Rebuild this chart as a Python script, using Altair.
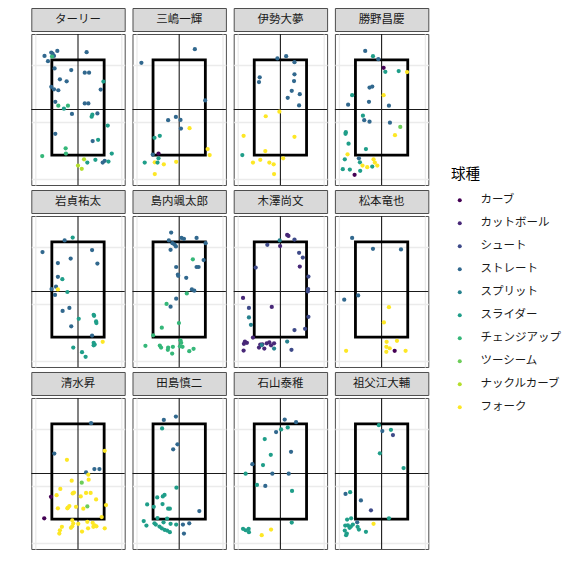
import altair as alt
import pandas as pd

players = ["ターリー", "三嶋一輝", "伊勢大夢", "勝野昌慶",
           "岩貞祐太", "島内颯太郎", "木澤尚文", "松本竜也",
           "清水昇", "田島慎二", "石山泰稚", "祖父江大輔"]

pitch_types = ["カーブ", "カットボール", "シュート", "ストレート", "スプリット",
               "スライダー", "チェンジアップ", "ツーシーム", "ナックルカーブ", "フォーク"]
pitch_colors = ["#440154", "#482878", "#3E4A89", "#31688E", "#26828E",
                "#1F9E89", "#35B779", "#6DCD59", "#B4DE2C", "#FDE725"]

CU, FC, SH, FF, SP, SL, CH, TS, KC, FO = pitch_types

# strike zone and cross lines (plot units)
zone_x = [-1.82, 1.82]
zone_y = [1.66, 8.37]
cross_x = 0.0
cross_y = 4.87

tarry = [
    (FF, -2.33, 8.65), (FF, -1.86, 8.88), (FF, -1.77, 8.81), (FF, -1.67, 8.65), (FF, -1.44, 9.0),
    (FF, -2.09, 8.28), (FF, 0.60, 8.91), (FF, -1.63, 7.77), (FF, -0.47, 7.65), (FF, 0.47, 7.47),
    (FF, 0.77, 7.47), (FF, -1.26, 7.0), (FF, -0.79, 6.86), (FF, -1.86, 6.47), (FF, -1.67, 6.30),
    (FF, -1.37, 6.23), (FF, 1.58, 6.28), (FF, -1.58, 5.42), (FF, 0.47, 5.30), (FF, 0.72, 5.30),
    (FF, 1.35, 4.60), (FF, -0.42, 4.56), (FF, -1.58, 3.16), (FF, 1.02, 2.65), (FF, 1.72, 1.14),
    (FF, 1.86, 1.26),
    (CH, -1.81, 8.60), (CH, -1.37, 5.14), (CH, -0.70, 5.14), (CH, -2.49, 1.60), (CH, -0.86, 2.14),
    (CH, -0.84, 1.77),
    (SL, -0.98, 4.93), (SL, 1.77, 6.84), (SL, 1.0, 4.51), (SL, 0.95, 4.37), (SL, 2.07, 3.74),
    (SL, 1.40, 2.74), (SL, 2.35, 1.77), (SL, 0.65, 1.14), (SL, 1.21, 1.33), (SL, 2.12, 1.21),
    (KC, 0.42, 1.37), (KC, 0.0, 0.93), (KC, 0.26, 0.70),
]
mishima = [
    (FF, -2.63, 8.16), (FF, 1.09, 9.12), (FF, 1.81, 5.51), (FF, -0.77, 4.12), (FF, -0.23, 4.35),
    (FF, 0.09, 4.14), (FF, 0.12, 3.53), (FF, -1.84, 1.70),
    (FO, 0.72, 3.56), (FO, -1.70, 1.16), (FO, -1.07, 1.02), (FO, -0.21, 1.19), (FO, 1.98, 2.09),
    (FO, 2.12, 1.67), (FO, -1.70, 0.33),
    (SL, -1.72, 2.88), (SL, -1.35, 3.02), (SL, -1.44, 1.44), (SL, -1.51, 1.14), (SL, -2.40, 1.14),
    (CU, -1.44, 1.77),
]
ise = [
    (FF, -0.21, 8.47), (FF, 0.40, 8.63), (FF, 0.98, 8.21), (FF, -1.44, 7.14), (FF, -1.49, 6.81),
    (FF, 0.98, 7.35), (FF, 0.95, 6.88), (FF, 0.79, 6.19), (FF, 1.35, 5.95), (FF, 0.51, 5.70),
    (FF, 1.30, 5.16),
    (FO, -0.07, 4.72), (FO, -1.02, 4.40), (FO, -2.56, 3.02), (FO, 0.98, 2.95), (FO, -1.05, 1.95),
    (FO, 0.19, 1.44), (FO, -1.91, 1.14), (FO, -1.40, 1.33), (FO, -0.77, 1.14), (FO, -0.47, 1.02),
    (FO, -0.44, 0.33),
    (SL, -2.65, 1.67),
]
katsuno = [
    (FF, -1.14, 9.0), (FF, -0.23, 8.42), (FF, -0.84, 6.42), (FF, -0.65, 6.49), (FF, -2.33, 5.21),
    (FF, -0.88, 5.42), (FF, 0.51, 5.14), (FF, -1.21, 4.12), (FF, -0.84, 4.02), (FF, 0.58, 3.95),
    (FF, -1.58, 1.44),
    (SL, -0.60, 8.63), (SL, 0.26, 7.53), (SL, 1.19, 7.58), (SL, -2.05, 5.88), (SL, -1.30, 4.44),
    (SL, -2.49, 3.28), (SL, -2.51, 3.16), (SL, -2.30, 2.47), (SL, -1.09, 2.09), (SL, -2.56, 1.37),
    (SL, -1.51, 1.16), (SL, -0.65, 0.86), (SL, -2.70, 0.67), (SL, -2.21, 0.65), (SL, -1.49, 0.56),
    (CU, 0.14, 7.81), (CU, -1.88, 0.28),
    (FO, 1.77, 7.51), (FO, 0.14, 5.88), (FO, 0.93, 3.07), (FO, -2.37, 1.72), (FO, -1.33, 0.93),
    (FO, -1.0, 0.81), (FO, -0.56, 1.37), (FO, -0.47, 1.14), (FO, -0.30, 0.93),
    (TS, 1.30, 3.65),
]
iwasada = [
    (FF, -0.93, 8.47), (FF, -2.47, 7.65), (FF, 0.98, 7.79), (FF, -0.51, 7.19), (FF, -1.40, 6.88),
    (FF, 1.35, 6.84), (FF, -1.40, 5.91), (FF, -1.53, 5.21), (FF, -1.84, 5.05), (FF, -1.60, 4.63),
    (FF, -1.07, 3.51), (FF, -0.60, 3.72), (FF, -0.47, 2.42), (FF, 0.98, 1.77),
    (SL, -0.37, 8.67), (SL, -1.09, 5.74), (SL, -0.74, 4.84), (SL, 0.05, 2.95), (SL, 1.09, 3.23),
    (SL, 1.12, 3.16), (SL, 1.26, 2.77), (SL, 1.28, 2.65), (SL, 1.09, 1.26), (SL, 1.16, 1.14),
    (SL, 1.09, 1.09), (SL, -0.33, 0.93), (SL, 0.28, 0.60), (SL, 0.53, 0.28),
    (FO, -1.40, 5.02), (FO, 1.72, 1.33),
]
shimauchi = [
    (FF, -0.56, 9.02), (FF, -0.72, 8.47), (FF, 0.16, 8.65), (FF, 0.33, 8.58), (FF, 1.21, 8.65),
    (FF, 1.84, 8.28), (FF, -0.47, 8.28), (FF, -0.33, 8.19), (FF, -0.60, 7.81), (FF, -0.23, 8.05),
    (FF, 1.70, 7.09), (FF, -0.21, 6.60), (FF, 1.21, 6.60), (FF, 1.35, 6.60), (FF, -0.09, 6.07),
    (FF, -0.07, 5.98), (FF, 0.49, 5.84), (FF, 0.88, 5.02), (FF, 1.05, 4.93), (FF, -0.21, 4.37),
    (FF, -0.60, 3.81),
    (CH, 0.95, 7.14), (CH, 0.53, 4.74), (CH, -0.88, 4.0), (CH, -0.02, 2.65), (CH, -1.21, 2.33),
    (CH, -1.81, 1.79), (CH, -2.35, 1.05), (CH, -1.35, 1.07), (CH, -1.26, 0.93), (CH, -0.77, 0.93),
    (CH, -0.79, 0.77), (CH, -0.44, 0.98), (CH, -0.49, 0.51), (CH, 0.09, 1.44), (CH, 0.14, 1.26),
    (CH, 0.05, 1.02), (CH, 0.23, 0.98), (CH, 0.70, 0.67), (CH, 1.0, 0.84),
]
kizawa = [
    (FC, 0.47, 8.86), (FC, 0.56, 8.79), (FC, -0.02, 8.07), (FC, 1.35, 6.63), (FC, -2.60, 4.42),
    (FC, -0.60, 3.79), (FC, -1.91, 1.63), (FC, -2.47, 1.35), (FC, -2.54, 1.19), (FC, -2.33, 1.26),
    (FC, -2.56, 0.72), (FC, -1.49, 0.93), (FC, -1.40, 1.14), (FC, -1.26, 1.16), (FC, -1.12, 0.86),
    (FC, -0.95, 1.23), (FC, -0.77, 1.30), (FC, -0.65, 1.09), (FC, -0.44, 1.23),
    (SH, 0.98, 8.53), (SH, -0.91, 8.16), (SH, 1.30, 7.60), (SH, 1.56, 7.26), (SH, -1.72, 6.56),
    (SH, 1.95, 5.93), (SH, 1.91, 4.88), (SH, 1.93, 5.05), (SH, -2.19, 3.72), (SH, 1.95, 3.09),
    (SH, 1.72, 2.25), (SH, 0.98, 2.16), (SH, 0.77, 0.77),
    (SP, -0.05, 8.47), (SP, -2.19, 3.05), (SP, -2.05, 2.53), (SP, 0.47, 1.35), (SP, -0.44, 0.86),
    (SP, -1.30, 1.10),
]
matsumoto = [
    (FF, -2.05, 8.65), (FF, -0.60, 7.88), (FF, 1.35, 7.84), (FF, -2.60, 4.30), (FF, -1.63, 4.60),
    (FO, 0.51, 3.77), (FO, 0.16, 2.70), (FO, 1.07, 1.40), (FO, 0.35, 1.33), (FO, 0.33, 0.98),
    (FO, 0.56, 0.88), (FO, 0.33, 0.63), (FO, 1.67, 0.70), (FO, -2.47, 0.70),
    (CU, 0.91, 0.70),
]
shimizu = [
    (FF, 0.91, 8.42), (FF, -1.65, 6.28), (FF, 0.56, 4.95), (FF, 1.14, 5.19), (FF, 1.49, 5.19),
    (FO, 1.86, 6.47), (FO, -0.77, 5.84), (FO, 0.72, 4.79), (FO, -0.44, 4.37), (FO, 0.74, 4.44),
    (FO, -1.23, 3.79), (FO, -0.28, 3.53), (FO, -0.37, 3.47), (FO, -1.49, 3.35), (FO, 0.19, 3.26),
    (FO, 0.56, 3.51), (FO, 0.88, 3.51), (FO, 1.26, 3.05), (FO, 1.95, 2.65), (FO, -1.40, 2.42),
    (FO, -0.74, 2.42), (FO, -0.60, 2.58), (FO, -0.70, 2.48), (FO, -0.14, 2.53), (FO, 0.37, 2.40),
    (FO, 1.65, 1.81), (FO, -0.40, 1.58), (FO, -0.33, 1.35), (FO, -0.40, 1.16), (FO, -0.49, 1.05),
    (FO, -1.12, 1.12), (FO, -1.26, 0.88), (FO, -1.30, 0.65), (FO, 0.28, 0.79), (FO, 0.65, 1.47),
    (FO, 0.70, 1.02), (FO, 1.02, 1.40), (FO, 1.16, 1.23), (FO, 1.28, 1.16), (FO, 1.07, 1.12),
    (FO, 1.86, 1.02), (FO, 0.02, 1.33),
    (TS, 0.26, 4.23), (TS, 0.65, 2.56),
    (CU, -1.88, 3.23), (CU, -2.35, 1.72),
]
tajima = [
    (FF, -1.07, 8.65), (FF, -0.23, 8.88), (FF, -0.12, 6.93), (FF, -0.42, 6.58), (FF, 1.40, 2.23),
    (FF, 0.26, 1.28), (FF, 0.70, 1.37), (FF, 0.33, 0.65),
    (SL, -1.19, 8.05), (SL, -0.19, 3.88), (SL, -1.53, 3.19), (SL, -1.14, 3.26), (SL, -1.02, 3.37),
    (SL, -2.23, 2.70), (SL, -1.77, 2.53), (SL, -1.16, 2.72), (SL, -0.77, 2.40), (SL, -0.65, 2.40),
    (SL, -1.51, 1.74), (SL, -0.84, 1.70), (SL, -2.47, 1.53), (SL, -2.28, 1.21), (SL, -1.72, 1.37),
    (SL, -1.63, 1.28), (SL, -1.37, 1.14), (SL, -1.21, 1.02), (SL, -1.02, 0.91), (SL, -0.84, 0.86),
    (SL, -0.65, 0.74), (SL, -1.09, 1.44), (SL, -0.60, 1.33), (SL, -0.21, 1.28),
]
ishiyama = [
    (FF, 0.30, 8.67), (FF, 1.09, 8.49), (FF, -0.30, 7.79), (FF, 0.74, 6.40), (FF, -1.95, 5.53),
    (FF, -0.56, 4.86), (FF, 0.58, 4.86), (FF, -1.05, 4.0),
    (SL, 0.51, 8.12), (SL, 0.05, 7.98), (SL, -1.09, 7.30), (SL, -0.67, 6.19), (SL, -1.21, 5.47),
    (SL, -2.42, 4.86), (SL, -1.63, 4.07), (SL, 0.81, 3.65), (SL, 0.79, 1.42), (SL, -2.60, 0.98),
    (SL, -2.42, 0.88), (SL, -2.21, 0.98), (SL, -2.19, 0.74),
    (FO, -0.65, 0.93), (FO, -1.30, 0.53),
]
sobue = [
    (SL, -0.19, 8.28), (SL, 0.65, 7.95), (SL, -0.12, 6.30), (SL, 1.53, 5.26), (SL, -2.19, 3.56),
    (SL, 0.51, 1.72), (SL, -2.40, 1.63), (SL, -2.12, 1.72), (SL, -2.53, 1.21), (SL, -2.35, 1.23),
    (SL, -2.0, 1.28), (SL, -1.67, 1.12), (SL, -1.58, 0.93), (SL, -1.09, 0.77), (SL, -2.56, 0.86),
    (SL, -2.42, 0.65), (SL, -2.23, 1.05), (SL, -2.47, 0.53), (SL, -2.14, 1.14),
    (FF, 0.05, 7.86), (FF, -2.51, 3.44), (FF, -1.44, 2.98), (FF, -1.70, 1.44),
    (SH, 0.79, 7.58), (SH, -0.74, 2.28),
    (FO, -0.56, 1.33),
]

player_points = [tarry, mishima, ise, katsuno, iwasada, shimauchi,
                 kizawa, matsumoto, shimizu, tajima, ishiyama, sobue]

FONT = "Noto Sans CJK JP"
PW, PH, SH_H = 93.4, 151, 23

xs = alt.Scale(domain=[-3.25, 3.25], nice=False, zero=False)
ys = alt.Scale(domain=[-0.44, 10.19], nice=False, zero=False)
grid_x = [-3, -2, -1, 0, 1, 2, 3]
grid_y = [0, 1, 2, 3, 4, 5, 6, 7, 8, 9, 10]


def axis(vals):
    return alt.Axis(values=vals, labels=False, ticks=False, domain=False, title=None,
                    grid=True, gridColor="#EBEBEB", gridWidth=1.3,
                    minExtent=0, maxExtent=0)


zone_df = pd.DataFrame({"x1": [zone_x[0]], "x2": [zone_x[1]], "y1": [zone_y[0]], "y2": [zone_y[1]]})
vline_df = pd.DataFrame({"x": [cross_x]})
hline_df = pd.DataFrame({"y": [cross_y]})


def panel(name, pts, show_legend):
    df = pd.DataFrame(pts, columns=["球種", "x", "y"])
    if show_legend:
        legend = alt.Legend(orient="none", legendX=419.7, legendY=160, title="球種",
                            titleFontSize=14.5, titleFontWeight="normal", titleColor="#000000",
                            titleFont=FONT, labelFont=FONT, labelFontSize=11.5, labelColor="#1A1A1A",
                            symbolSize=16, symbolOffset=3, labelOffset=15, rowPadding=10,
                            titlePadding=12, symbolType="circle")
    else:
        legend = None
    vline = alt.Chart(vline_df).mark_rule(color="#1A1A1A", strokeWidth=1.1).encode(
        x=alt.X("x:Q", scale=xs, axis=axis(grid_x)))
    hline = alt.Chart(hline_df).mark_rule(color="#1A1A1A", strokeWidth=1.1).encode(
        y=alt.Y("y:Q", scale=ys, axis=axis(grid_y)))
    zone = alt.Chart(zone_df).mark_rect(fillOpacity=0, stroke="#000000", strokeWidth=2.8).encode(
        x=alt.X("x1:Q", scale=xs), x2="x2:Q", y=alt.Y("y1:Q", scale=ys), y2="y2:Q")
    pts_chart = alt.Chart(df).mark_circle(size=18, opacity=1).encode(
        x=alt.X("x:Q", scale=xs),
        y=alt.Y("y:Q", scale=ys),
        color=alt.Color("球種:N", scale=alt.Scale(domain=pitch_types, range=pitch_colors),
                        legend=legend),
    )
    body = alt.layer(vline, hline, zone, pts_chart).properties(width=PW, height=PH)
    strip = alt.Chart(pd.DataFrame({"name": [name]})).mark_text(
        font=FONT, fontSize=11.5, color="#1A1A1A", baseline="middle", align="center"
    ).encode(text="name:N", x=alt.value(PW / 2), y=alt.value(SH_H / 2 + 0.5)).properties(
        width=PW, height=SH_H,
        view=alt.ViewBackground(fill="#D9D9D9", stroke="#4D4D4D", strokeWidth=1),
    )
    return alt.vconcat(strip, body, spacing=0)


cells = [panel(n, p, i == 0) for i, (n, p) in enumerate(zip(players, player_points))]
rows = [alt.hconcat(*cells[r * 4:(r + 1) * 4], spacing=4.2) for r in range(3)]

chart = alt.vconcat(*rows, spacing=2).resolve_scale(color="shared").properties(
    padding={"left": 29.3, "top": 7, "right": 5, "bottom": 5}
).configure(font=FONT).configure_view(stroke="#4D4D4D", strokeWidth=1)

chart.save("out.html", embed_options={"renderer": "svg", "actions": False})
